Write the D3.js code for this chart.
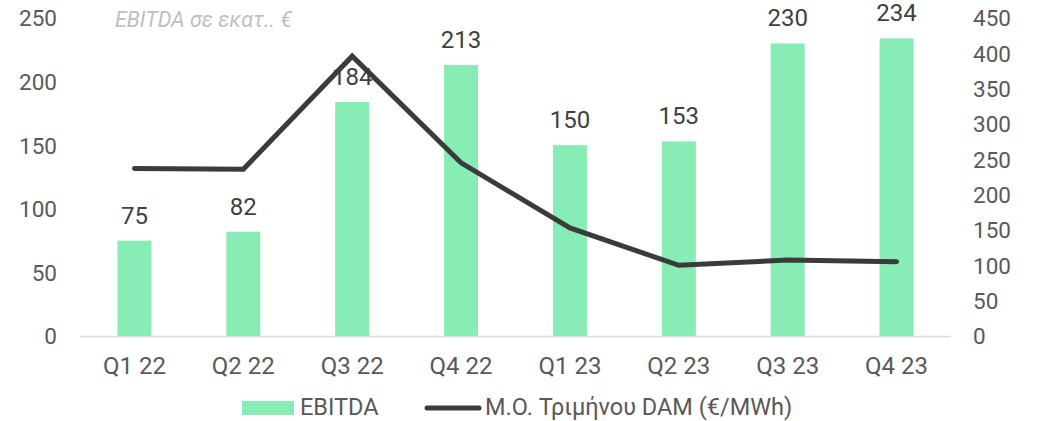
<!DOCTYPE html>
<html>
<head>
<meta charset="utf-8">
<script src="https://cdn.jsdelivr.net/npm/d3@7"></script>
<style>
  body { margin: 0; background: #fff; }
  text { font-family: Roboto, "Noto Sans", sans-serif; }
</style>
</head>
<body>
<div id="chart"></div>
<script>
var quarters = ["Q1 22", "Q2 22", "Q3 22", "Q4 22", "Q1 23", "Q2 23", "Q3 23", "Q4 23"];
var ebitda = [75, 82, 184, 213, 150, 153, 230, 234];
var damPrice = [237, 236, 396, 245, 153, 100, 107.5, 105];
var leftTicks = [0, 50, 100, 150, 200, 250];
var rightTicks = [0, 50, 100, 150, 200, 250, 300, 350, 400, 450];

var width = 1037;
var height = 421;
var plotLeft = 80, plotRight = 951;
var plotTop = 18, plotBottom = 336;

var barColor = "#88edb4";
var lineColor = "#3b3b3b";

var svg = d3.select("#chart").append("svg")
  .attr("width", width)
  .attr("height", height);

/* Scales */
var xScale = d3.scaleBand()
  .domain(quarters)
  .range([plotLeft, plotRight])
  .padding(0);

var barWidth = 34;

var yLeft = d3.scaleLinear()
  .domain([0, 250])
  .range([plotBottom, plotTop]);

var yRight = d3.scaleLinear()
  .domain([0, 450])
  .range([plotBottom, plotTop]);

/* Axes */
var leftAxis = d3.axisLeft(yLeft).tickValues(leftTicks).tickSize(0).tickPadding(0);
var gl = svg.append("g")
  .attr("transform", "translate(57,0)")
  .call(leftAxis);
gl.select(".domain").remove();
gl.selectAll("text")
  .attr("fill", "#595959")
  .style("font-size", "22.5px")
  .attr("dy", "0.35em");

var rightAxis = d3.axisRight(yRight).tickValues(rightTicks).tickSize(0).tickPadding(0);
var gr = svg.append("g")
  .attr("transform", "translate(973,0)")
  .call(rightAxis);
gr.select(".domain").remove();
gr.selectAll("text")
  .attr("fill", "#595959")
  .style("font-size", "22.5px")
  .attr("dy", "0.35em");

var bottomAxis = d3.axisBottom(xScale).tickSize(0).tickPadding(0);
var gb = svg.append("g")
  .attr("transform", "translate(0," + plotBottom + ")")
  .call(bottomAxis);
gb.select(".domain").remove();
gb.selectAll("text")
  .attr("fill", "#595959")
  .style("font-size", "24px")
  .attr("dy", 0)
  .attr("y", 38);

/* Bars */
svg.append("g")
  .selectAll("rect")
  .data(ebitda).enter()
  .append("rect")
  .attr("x", (d, i) => xScale(quarters[i]) + xScale.bandwidth() / 2 - barWidth / 2)
  .attr("y", d => yLeft(d))
  .attr("width", barWidth)
  .attr("height", d => plotBottom - yLeft(d))
  .attr("fill", barColor);

/* baseline */
svg.append("line")
  .attr("x1", plotLeft).attr("x2", plotRight)
  .attr("y1", plotBottom + 0.5).attr("y2", plotBottom + 0.5)
  .attr("stroke", "#d9d9d9")
  .attr("stroke-width", 1.5);

/* Bar labels */
svg.append("g")
  .selectAll("text")
  .data(ebitda).enter()
  .append("text")
  .attr("x", (d, i) => xScale(quarters[i]) + xScale.bandwidth() / 2)
  .attr("y", d => yLeft(d) - 17)
  .attr("text-anchor", "middle")
  .attr("fill", "#404040")
  .style("font-size", "24px")
  .text(d => d);

/* Line */
var line = d3.line()
  .x((d, i) => xScale(quarters[i]) + xScale.bandwidth() / 2)
  .y(d => yRight(d));

svg.append("path")
  .datum(damPrice)
  .attr("d", line)
  .attr("fill", "none")
  .attr("stroke", lineColor)
  .attr("stroke-width", 5)
  .attr("stroke-linecap", "round")
  .attr("stroke-linejoin", "miter");

/* Title */
svg.append("text")
  .attr("x", 115)
  .attr("y", 27)
  .attr("fill", "#bfbfbf")
  .style("font-size", "21.5px")
  .style("font-style", "italic")
  .text("EBITDA σε εκατ.. €");

/* Legend */
var legend = svg.append("g");
legend.append("rect")
  .attr("x", 242).attr("y", 401)
  .attr("width", 52).attr("height", 14)
  .attr("fill", barColor);
legend.append("text")
  .attr("x", 300).attr("y", 415)
  .attr("fill", "#595959")
  .style("font-size", "23.5px")
  .text("EBITDA");
legend.append("line")
  .attr("x1", 427).attr("x2", 479)
  .attr("y1", 408).attr("y2", 408)
  .attr("stroke", lineColor)
  .attr("stroke-width", 5)
  .attr("stroke-linecap", "round");
legend.append("text")
  .attr("x", 485).attr("y", 415)
  .attr("fill", "#595959")
  .style("font-size", "23.5px")
  .text("M.O. Τριμήνου DAM (€/MWh)");
</script>
</body>
</html>
